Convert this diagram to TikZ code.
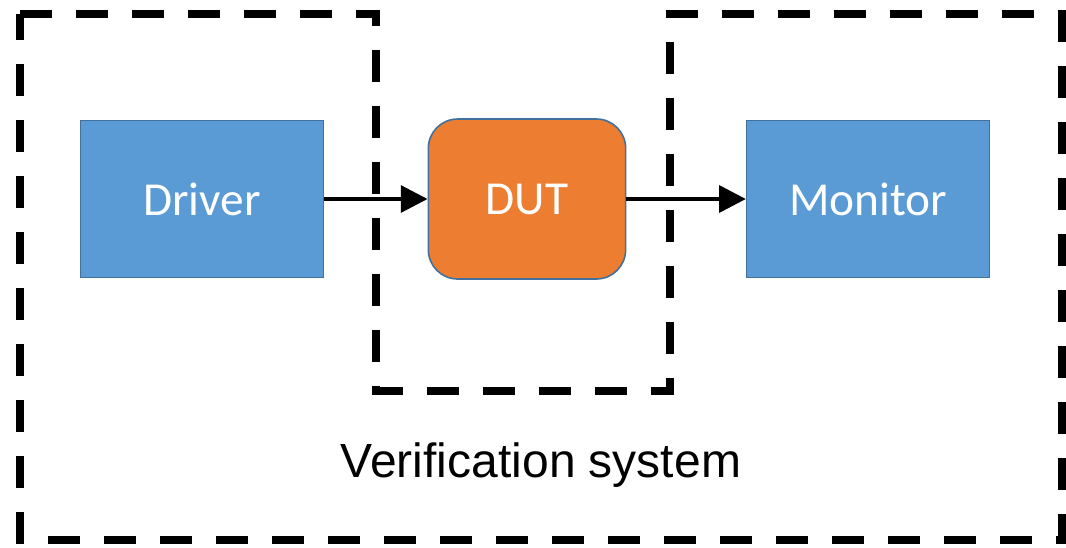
\documentclass[tikz,border=0pt]{standalone}
\usepackage{fontspec}
\setmainfont{Carlito}
\newfontfamily\arialfont{Liberation Sans}
\usepackage{tikz}
\usetikzlibrary{arrows.meta,positioning}
\definecolor{vsblue}{HTML}{5B9BD5}
\definecolor{vsorange}{HTML}{ED7D31}
\definecolor{vsedge}{HTML}{41719C}

\begin{document}
\begin{tikzpicture}[x=0.75pt,y=-0.75pt,>={Triangle[length=20pt,width=20pt]},
  blk/.style={draw=vsedge,line width=1.2pt,fill=vsblue,text=white,minimum width=182pt,minimum height=118pt,font=\fontsize{35.5}{40}\selectfont},
  dut/.style={blk,fill=vsorange,minimum width=148pt,minimum height=120pt,rounded corners=22pt}]
  \useasboundingbox (0,0) rectangle (1066,547);
  % verification system outline (dashed, with notch around the DUT)
  \draw[line width=6pt,dash pattern=on 24pt off 18pt,miter limit=10]
    (20,14) -- (376,14) -- (376,391) -- (670,391) -- (670,14) -- (1062,14)
    -- (1062,540) -- (20,540) -- cycle;
  % blocks
  \node[blk] (drv) at (202,199) {Driver};
  \node[dut] (dut) at (527,199) {DUT};
  \node[blk] (mon) at (868,199) {Monitor};
  % connections
  \draw[->,line width=3pt] (drv.east) -- (dut.west);
  \draw[->,line width=3pt] (dut.east) -- (mon.west);
  \node[font=\arialfont\fontsize{36}{42}\selectfont] (vsys) at (541,465) {Verification system};
\end{tikzpicture}
\end{document}
